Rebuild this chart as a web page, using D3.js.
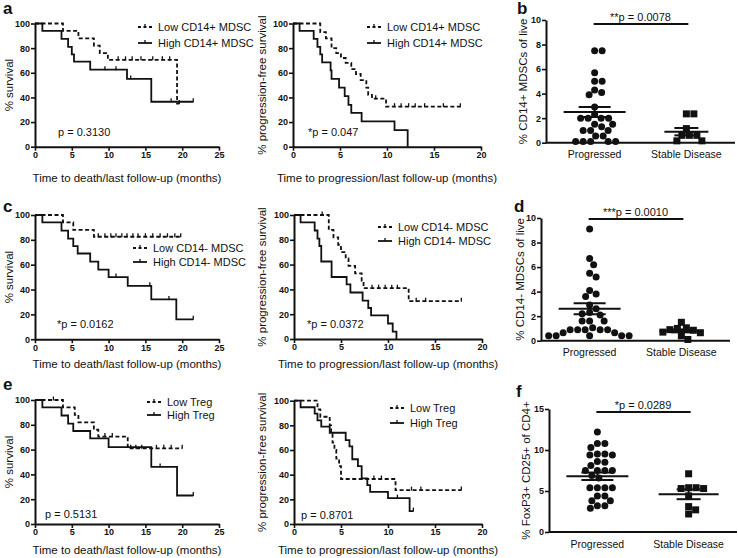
<!DOCTYPE html>
<html><head><meta charset="utf-8">
<script src="https://cdn.jsdelivr.net/npm/d3@7"></script>
<style>body{margin:0;background:#fff} svg{display:block;font-family:"Liberation Sans",Arial,sans-serif}</style>
</head><body><svg id="c" width="738" height="558"></svg>
<script>
// ---------- Kaplan-Meier data (time in months, % surviving) ----------
const aOsLowT  = [0, 3.8, 5.9, 8.0, 8.8, 9.9, 19.3, 19.6];
const aOsLowS  = [100, 94, 88, 82, 76, 70.5, 35, 35];
const aOsLowC  = [11.3, 12.3, 13.2, 14.4, 16.0, 17.3, 18.3, 19.6];
const aOsHighT = [0, 1.0, 3.6, 4.5, 5.0, 5.3, 7.5, 12.5, 15.8, 21.5];
const aOsHighS = [100, 94, 87.5, 81, 75, 69, 62.5, 55, 36.5, 36.5];
const aOsHighC = [9.5, 11.0, 13.0, 18.5, 21.5];

const aPfsLowT  = [0, 2.9, 3.5, 4.1, 4.6, 5.1, 5.6, 6.2, 6.7, 7.2, 7.8, 8.0, 8.4, 9.9, 17.8];
const aPfsLowS  = [100, 93, 88, 80, 76, 72, 68, 63, 59, 54, 48, 42, 39, 32.5, 32.5];
const aPfsLowC  = [8.8, 10.8, 11.5, 12.3, 13.0, 14.0, 16.0, 17.8];
const aPfsHighT = [0, 0.7, 2.2, 2.6, 2.9, 3.1, 4.0, 4.1, 4.9, 5.5, 5.9, 6.2, 7.3, 10.8, 12.2];
const aPfsHighS = [100, 94, 87.5, 81, 75, 68.5, 62, 55, 48, 41, 34, 27.5, 20.5, 13.5, 0];
const aPfsHighC = [];

const cOsLowT  = [0, 3.8, 5.2, 8.0, 19.8];
const cOsLowS  = [100, 94, 88, 82.5, 82.5];
const cOsLowC  = [8.6, 9.5, 10.3, 11.0, 11.8, 12.5, 13.3, 14.0, 15.0, 16.0, 17.0, 18.0, 19.0, 19.8];
const cOsHighT = [0, 1.0, 3.6, 4.5, 5.2, 5.8, 7.5, 8.6, 10.0, 12.6, 15.8, 19.2, 21.5];
const cOsHighS = [100, 94, 87.5, 81, 75, 69, 62.5, 56, 50, 43, 32, 16, 16];
const cOsHighC = [11.0, 15.6, 18.2, 21.5];

const cPfsLowT  = [0, 3.7, 4.2, 4.7, 5.0, 5.5, 5.8, 6.5, 7.2, 7.4, 12.2, 17.8];
const cPfsLowS  = [100, 88, 82, 76, 70, 65, 59, 53, 47, 41, 30.5, 30.5];
const cPfsLowC  = [3.0, 8.3, 9.0, 9.7, 10.4, 11.0, 13.0, 14.0, 17.8];
const cPfsHighT = [0, 0.7, 2.2, 2.5, 2.7, 2.9, 4.0, 5.6, 6.0, 7.3, 7.9, 8.2, 10.0, 10.5, 10.9];
const cPfsHighS = [100, 94, 87.5, 81, 75, 62.5, 50, 44, 37.5, 31, 25, 19, 12.5, 6, 0];
const cPfsHighC = [];

const eOsLowT  = [0, 3.8, 5.4, 5.9, 8.0, 8.6, 12.6, 20.0];
const eOsLowS  = [100, 94, 88, 82, 76, 70.5, 61, 61];
const eOsLowC  = [2.5, 9.5, 10.5, 13.0, 13.7, 14.5, 16.5, 17.5, 18.5, 20.0];
const eOsHighT = [0, 1.0, 3.6, 4.5, 5.2, 7.5, 10.0, 15.8, 19.3, 21.5];
const eOsHighS = [100, 94, 87.5, 81, 75, 69, 62, 46, 23, 23];
const eOsHighC = [17.0, 21.5];

const ePfsLowT  = [0, 2.5, 2.8, 3.8, 3.95, 4.1, 4.3, 4.5, 4.8, 5.0, 10.8, 17.8];
const ePfsLowS  = [100, 93, 87, 80, 73, 66, 60, 53, 47, 36.5, 27.5, 27.5];
const ePfsLowC  = [8.5, 9.3, 12.5, 13.5, 17.8];
const ePfsHighT = [0, 0.7, 2.2, 2.5, 2.9, 3.8, 5.5, 5.9, 6.2, 6.8, 7.2, 7.8, 8.1, 10.0, 12.3, 12.7];
const ePfsHighS = [100, 94.7, 89.5, 84, 79, 74, 68, 63, 52.5, 47, 37, 31.5, 26, 21, 10.5, 10.5];
const ePfsHighC = [11.0, 12.7];

// ---------- scatter data ----------
const groups = ["Progressed", "Stable Disease"];
const bProg   = [7.5, 7.5, 5.7, 5.0, 5.0, 4.3, 4.1, 3.9, 2.9, 2.3, 2.0, 2.0, 2.0, 2.0, 1.5, 1.5, 1.3, 1.0, 1.0, 1.0, 0.55, 0.55, 0.1, 0.1, 0.1, 0.1, 0.1];
const bStable = [2.35, 2.35, 1.15, 0.6, 0.6, 0.6, 0.15, 0.15];
const bMean = [2.5, 0.9];
const bSem  = [0.4, 0.3];
const dProg   = [9.1, 6.7, 6.2, 5.5, 5.2, 4.1, 3.8, 3.6, 2.9, 2.6, 2.3, 2.2, 2.1, 1.6, 1.6, 1.6, 1.05, 0.9, 0.9, 0.9, 0.9, 0.9, 0.65, 0.65, 0.4, 0.4, 0.4, 0.4, 0.4];
const dStable = [1.5, 1.05, 1.0, 0.9, 0.85, 0.7, 0.65, 0.4, 0.1];
const dMean = [2.6, 0.8];
const dSem  = [0.45, 0.12];
const fProg   = [12.2, 10.8, 10.8, 10.3, 9.5, 9.5, 9.4, 9.4, 8.6, 8.5, 8.1, 7.5, 7.5, 7.5, 7.5, 6.9, 6.6, 5.4, 5.4, 5.4, 5.4, 4.4, 4.4, 3.8, 3.8, 3.2, 3.2, 2.9];
const fStable = [7.1, 5.4, 5.4, 5.3, 5.3, 4.4, 3.1, 2.7, 2.2];
const fMean = [6.8, 4.6];
const fSem  = [0.45, 0.6];

// ---------- text ----------
const survTitle = "Time to death/last follow-up (months)";
const pfsTitle = "Time to progression/last follow-up (months)";

const svg = d3.select('#c');
const INK = "#111";

function stepVal(t, s, x) { let v = s[0]; for (let i = 0; i < t.length; i++) if (t[i] <= x) v = s[i]; return v; }

function styleAxis(sel) {
  sel.select('.domain').attr('stroke', INK).attr('stroke-width', 2);
  sel.selectAll('.tick line').attr('stroke', INK).attr('stroke-width', 1.6);
  sel.selectAll('.tick text').attr('fill', INK).attr('font-size', 9).attr('font-weight', 'bold')
     .attr('font-family', '"Liberation Sans", Arial, sans-serif');
}

function drawKM(c) {
  const g = svg.append('g');
  const x = d3.scaleLinear().domain([0, c.xmax]).range([c.x0, c.x1]);
  const y = d3.scaleLinear().domain([0, 100]).range([c.y0, c.y1]);
  const ln = d3.line().x(d => x(d[0])).y(d => y(d[1])).curve(d3.curveStepAfter);
  c.curves.forEach(cv => {
    const pts = cv.t.map((t, i) => [t, cv.s[i]]);
    g.append('path').attr('d', ln(pts)).attr('fill', 'none').attr('stroke', INK)
      .attr('stroke-width', 1.8).attr('stroke-dasharray', cv.dash ? '4,2.5' : null);
    g.selectAll(null).data(cv.c).enter().append('line')
      .attr('x1', d => x(d)).attr('x2', d => x(d))
      .attr('y1', d => y(stepVal(cv.t, cv.s, d)) - 3.5).attr('y2', d => y(stepVal(cv.t, cv.s, d)) + 0.5)
      .attr('stroke', INK).attr('stroke-width', 1.3);
  });
  const xa = g.append('g').attr('transform', `translate(0,${c.y0})`)
    .call(d3.axisBottom(x).tickValues(d3.range(0, c.xmax + 1, 5)).tickSize(4).tickSizeOuter(0).tickPadding(1));
  styleAxis(xa);
  const ya = g.append('g').attr('transform', `translate(${c.x0},0)`)
    .call(d3.axisLeft(y).tickValues(d3.range(0, 101, 20)).tickSize(4).tickSizeOuter(0).tickPadding(1));
  styleAxis(ya);
  g.append('text').attr('x', (c.x0 + c.x1) / 2).attr('y', c.y0 + c.xtOff).attr('text-anchor', 'middle')
    .attr('font-size', 11.5).attr('fill', INK).text(c.xtitle);
  g.append('text').attr('transform', `translate(${c.ylx},${(c.y0 + c.y1) / 2}) rotate(-90)`)
    .attr('text-anchor', 'middle').attr('dy', '0.35em').attr('font-size', 11.5).attr('fill', INK).text(c.ytitle);
  g.append('text').attr('x', c.px).attr('y', c.py).attr('dy', '0.35em').attr('font-size', 11).attr('fill', INK).text(c.ptext);
  c.legend.forEach((lab, i) => {
    const ly = c.ly + i * c.lgap;
    g.append('line').attr('x1', c.lx).attr('x2', c.lx + 14).attr('y1', ly).attr('y2', ly)
      .attr('stroke', INK).attr('stroke-width', 1.8).attr('stroke-dasharray', i === 0 ? '3,2.5' : null);
    g.append('line').attr('x1', c.lx + 7).attr('x2', c.lx + 7).attr('y1', ly - 3).attr('y2', ly)
      .attr('stroke', INK).attr('stroke-width', 1.3);
    g.append('text').attr('x', c.lx + 20).attr('y', ly).attr('dy', '0.35em').attr('font-size', 11)
      .attr('fill', INK).text(lab);
  });
}

// simple beeswarm: highest values placed first near the centre
function swarm(vals, y, cx, minDist) {
  const placed = [];
  const order = vals.map((v, i) => i).sort((a, b) => vals[b] - vals[a]);
  const out = new Array(vals.length);
  order.forEach(i => {
    const py = y(vals[i]);
    let best = null;
    for (let k = 0; k < 400 && best === null; k++) {
      const offs = k === 0 ? [0] : [k * 0.5, -k * 0.5];
      for (const o of offs) {
        const px = cx + o;
        if (placed.every(p => Math.hypot(p[0] - px, p[1] - py) >= minDist)) { best = px; break; }
      }
    }
    placed.push([best, py]);
    out[i] = [best, py];
  });
  return out;
}

function drawScatter(c) {
  const g = svg.append('g');
  const x = d3.scalePoint().domain(groups).range([c.x0, c.x1]).padding(0.53);
  const y = d3.scaleLinear().domain([0, c.ymax]).range([c.y0, c.y1]);
  g.append('line').attr('x1', c.x0).attr('x2', c.x1).attr('y1', c.y0).attr('y2', c.y0)
    .attr('stroke', INK).attr('stroke-width', 2);
  const ya = g.append('g').attr('transform', `translate(${c.x0},0)`)
    .call(d3.axisLeft(y).tickValues(d3.range(0, c.ymax + 0.01, c.ystep)).tickSize(4).tickSizeOuter(0).tickPadding(1));
  styleAxis(ya);
  groups.forEach(gr => {
    g.append('text').attr('x', x(gr)).attr('y', c.y0 + 12).attr('dy', '0.35em').attr('text-anchor', 'middle')
      .attr('font-size', 10.5).attr('fill', INK).text(gr);
  });
  const r = 3.5;
  const p1 = swarm(c.prog, y, x(groups[0]), 2 * r + 0.3);
  g.selectAll(null).data(p1).enter().append('circle').attr('cx', d => d[0]).attr('cy', d => d[1])
    .attr('r', r).attr('fill', INK);
  const p2 = swarm(c.stable, y, x(groups[1]), 2 * r + 0.3);
  g.selectAll(null).data(p2).enter().append('rect').attr('x', d => d[0] - r).attr('y', d => d[1] - r)
    .attr('width', 2 * r).attr('height', 2 * r).attr('fill', INK);
  groups.forEach((gr, i) => {
    const cx = x(gr), hw = c.meanHw[i], sw = c.semHw[i];
    const m = c.mean[i], s = c.sem[i];
    g.append('line').attr('x1', cx - hw).attr('x2', cx + hw).attr('y1', y(m)).attr('y2', y(m))
      .attr('stroke', INK).attr('stroke-width', 2);
    [m - s, m + s].forEach(v => g.append('line').attr('x1', cx - sw).attr('x2', cx + sw)
      .attr('y1', y(v)).attr('y2', y(v)).attr('stroke', INK).attr('stroke-width', 2));
    g.append('line').attr('x1', cx).attr('x2', cx).attr('y1', y(m - s)).attr('y2', y(m + s))
      .attr('stroke', INK).attr('stroke-width', 2);
  });
  g.append('line').attr('x1', x(groups[0]) - 1).attr('x2', x(groups[1]) + 2).attr('y1', c.sigY).attr('y2', c.sigY)
    .attr('stroke', INK).attr('stroke-width', 2);
  g.append('text').attr('x', (x(groups[0]) + x(groups[1])) / 2).attr('y', c.sigY - 3)
    .attr('text-anchor', 'middle').attr('font-size', 11).attr('fill', INK).text(c.sigText);
  g.append('text').attr('transform', `translate(${c.ylx},${(c.y0 + c.y1) / 2}) rotate(-90)`)
    .attr('text-anchor', 'middle').attr('dy', '0.35em').attr('font-size', 11.5).attr('fill', INK).text(c.ytitle);
}

// ---------- KM panels ----------
drawKM({ x0: 35, x1: 219, xmax: 25, y0: 146.7, y1: 23.5, xtOff: 35, xtitle: survTitle, ytitle: "% survival", ylx: 9,
  curves: [{ t: aOsLowT, s: aOsLowS, c: aOsLowC, dash: true }, { t: aOsHighT, s: aOsHighS, c: aOsHighC }],
  px: 58, py: 132, ptext: "p = 0.3130", lx: 138, ly: 27, lgap: 16, legend: ["Low CD14+ MDSC", "High CD14+ MDSC"] });
drawKM({ x0: 293, x1: 481, xmax: 20, y0: 146.7, y1: 23.5, xtOff: 35, xtitle: pfsTitle, ytitle: "% progression-free survival", ylx: 262,
  curves: [{ t: aPfsLowT, s: aPfsLowS, c: aPfsLowC, dash: true }, { t: aPfsHighT, s: aPfsHighS, c: aPfsHighC }],
  px: 308, py: 132, ptext: "*p = 0.047", lx: 367, ly: 27, lgap: 16, legend: ["Low CD14+ MDSC", "High CD14+ MDSC"] });
drawKM({ x0: 35, x1: 219, xmax: 25, y0: 339.2, y1: 215, xtOff: 29, xtitle: survTitle, ytitle: "% survival", ylx: 9,
  curves: [{ t: cOsLowT, s: cOsLowS, c: cOsLowC, dash: true }, { t: cOsHighT, s: cOsHighS, c: cOsHighC }],
  px: 57, py: 324, ptext: "*p = 0.0162", lx: 133, ly: 248, lgap: 14, legend: ["Low CD14- MDSC", "High CD14- MDSC"] });
drawKM({ x0: 294, x1: 482, xmax: 20, y0: 339, y1: 215, xtOff: 29, xtitle: pfsTitle, ytitle: "% progression-free survival", ylx: 262,
  curves: [{ t: cPfsLowT, s: cPfsLowS, c: cPfsLowC, dash: true }, { t: cPfsHighT, s: cPfsHighS, c: cPfsHighC }],
  px: 307, py: 324, ptext: "*p = 0.0372", lx: 378, ly: 227, lgap: 14, legend: ["Low CD14- MDSC", "High CD14- MDSC"] });
drawKM({ x0: 35, x1: 219, xmax: 25, y0: 524, y1: 400, xtOff: 30, xtitle: survTitle, ytitle: "% survival", ylx: 9,
  curves: [{ t: eOsLowT, s: eOsLowS, c: eOsLowC, dash: true }, { t: eOsHighT, s: eOsHighS, c: eOsHighC }],
  px: 45, py: 514, ptext: "p = 0.5131", lx: 147, ly: 402, lgap: 13, legend: ["Low Treg", "High Treg"] });
drawKM({ x0: 294, x1: 482, xmax: 20, y0: 524, y1: 400.7, xtOff: 30, xtitle: pfsTitle, ytitle: "% progression-free survival", ylx: 262,
  curves: [{ t: ePfsLowT, s: ePfsLowS, c: ePfsLowC, dash: true }, { t: ePfsHighT, s: ePfsHighS, c: ePfsHighC }],
  px: 301, py: 515, ptext: "p = 0.8701", lx: 390, ly: 408, lgap: 15, legend: ["Low Treg", "High Treg"] });

// ---------- scatter panels ----------
drawScatter({ x0: 546, x1: 735, y0: 142.7, y1: 20, ymax: 10, ystep: 2, prog: bProg, stable: bStable,
  mean: bMean, sem: bSem, meanHw: [31, 22], semHw: [16, 12], sigY: 24, sigText: "**p = 0.0078",
  ytitle: "% CD14+ MDSCs of live", ylx: 523 });
drawScatter({ x0: 541, x1: 730, y0: 340.7, y1: 218, ymax: 10, ystep: 2, prog: dProg, stable: dStable,
  mean: dMean, sem: dSem, meanHw: [31, 22], semHw: [16, 10], sigY: 219, sigText: "***p = 0.0010",
  ytitle: "% CD14- MDSCs of live", ylx: 520 });
drawScatter({ x0: 549, x1: 737, y0: 532, y1: 409, ymax: 15, ystep: 5, prog: fProg, stable: fStable,
  mean: fMean, sem: fSem, meanHw: [31, 30], semHw: [16, 12], sigY: 412, sigText: "*p = 0.0289",
  ytitle: "% FoxP3+ CD25+ of CD4+", ylx: 526 });

// ---------- panel letters ----------
const letters = [["a", 3, 14], ["b", 517, 14], ["c", 3, 212], ["d", 514, 212], ["e", 3, 390], ["f", 516, 397]];
svg.selectAll(null).data(letters).enter().append('text')
  .attr('x', d => d[1]).attr('y', d => d[2]).attr('font-size', 17).attr('font-weight', 'bold')
  .attr('fill', INK).text(d => d[0]);
</script>
</body></html>
